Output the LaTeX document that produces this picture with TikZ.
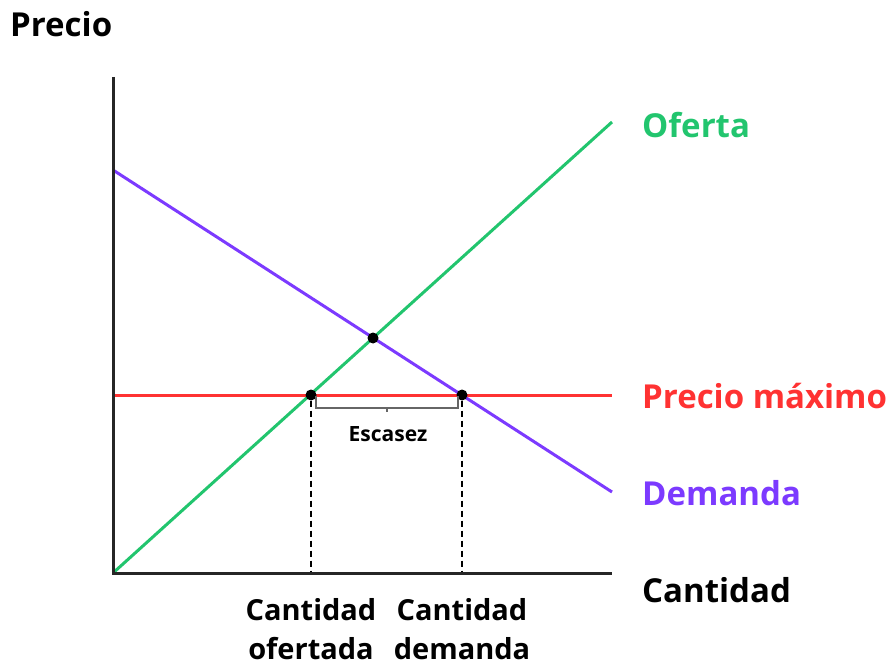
\documentclass[tikz,border=0pt]{standalone}
\usepackage{fontspec}
\setmainfont{Open Sans}
\usetikzlibrary{calc}
\begin{document}
\begin{tikzpicture}[x=1pt,y=-1pt,
  big/.style={font=\fontsize{33}{38}\selectfont\bfseries,anchor=west,inner sep=0pt},
  mid/.style={font=\fontsize{29}{39}\selectfont\bfseries,align=center,inner sep=0pt},
  small/.style={font=\fontsize{21}{24}\selectfont\bfseries,inner sep=0pt},
  dot/.style={circle,fill=black,inner sep=0pt,minimum size=11pt},
  axis/.style={line width=3pt,black!85},
  curve/.style={line width=3pt},
  guide/.style={line width=2pt,dash pattern=on 6pt off 4pt}]
\useasboundingbox (0,0) rectangle (891,668);
\definecolor{ofg}{RGB}{34,197,110}
\definecolor{dem}{RGB}{124,58,255}
\definecolor{pmx}{RGB}{255,50,50}
\coordinate (O) at (113,573);
\coordinate (ytop) at (113,77);
\coordinate (xend) at (612,573);
\coordinate (s2) at (612,122);
\coordinate (d1) at (113,170);
\coordinate (d2) at (612,492);
\coordinate (p1) at (113,395);
\coordinate (p2) at (612,395);
\draw[curve,pmx] (p1) -- (p2);
\draw[curve,ofg] (O) -- (s2);
\draw[curve,dem] (d1) -- (d2);
\node[dot] (eq) at (373,338) {};
\node[dot] (qs) at (311,395) {};
\node[dot] (qd) at (462,395) {};
\coordinate (qsb) at (311,573);
\coordinate (qdb) at (462,573);
\draw[guide] (qs) -- (qsb);
\draw[guide] (qd) -- (qdb);
\draw[axis] (ytop) -- (O) -- (xend);
\coordinate (b1) at (316,396);
\coordinate (b2) at (458,396);
\draw[gray!80!black,line width=1.4pt] (b1) -- ++(0,12) -- ($(b2)+(0,12)$) -- (b2);
\draw[gray!80!black,line width=1.4pt] (387,408) -- (387,412);
\node[small] (esc) at (388,434) {Escasez};
\node[big] (lprecio) at (10,24) {Precio};
\node[big,ofg] (lof) at (642,125) {Oferta};
\node[big,pmx] (lpm) at (642,396) {Precio máximo};
\node[big,dem] (ldem) at (642,493) {Demanda};
\node[big] (lcant) at (642,590) {Cantidad};
\node[mid] (lqs) at (311,629) {Cantidad\\ofertada};
\node[mid] (lqd) at (462,629) {Cantidad\\demanda};
\end{tikzpicture}
\end{document}
